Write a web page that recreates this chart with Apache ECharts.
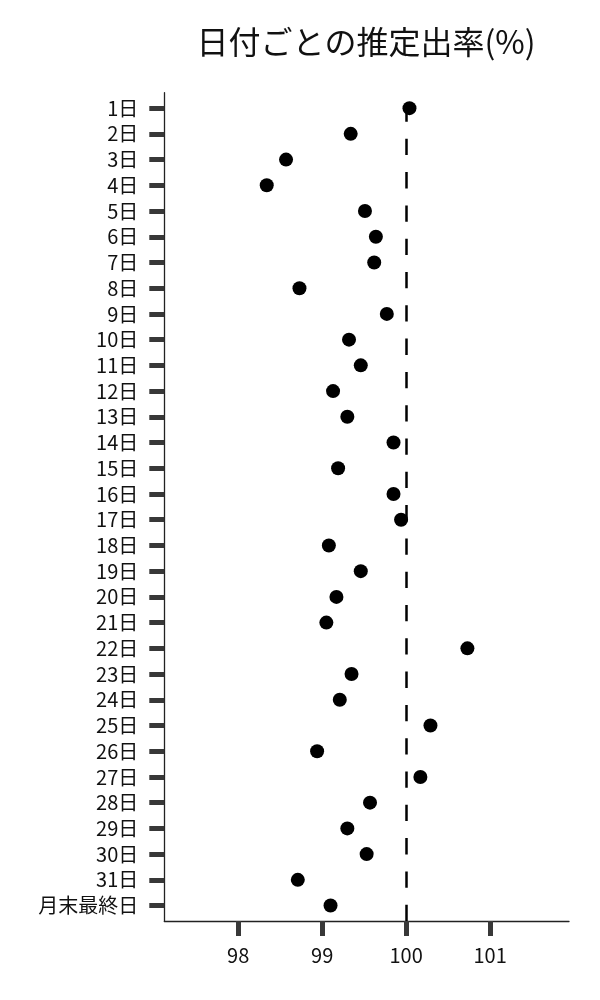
<!DOCTYPE html>
<html>
<head>
<meta charset="utf-8">
<script src="https://cdn.jsdelivr.net/npm/echarts@6/dist/echarts.min.js"></script>
<style>html,body{margin:0;padding:0;background:#fff}#c{width:600px;height:1000px}</style>
</head>
<body>
<div id="c"></div>
<script>
const categories = ["1日","2日","3日","4日","5日","6日","7日","8日","9日","10日","11日","12日","13日","14日","15日","16日","17日","18日","19日","20日","21日","22日","23日","24日","25日","26日","27日","28日","29日","30日","31日","月末最終日"];
const rates = [100.04,99.34,98.57,98.34,99.51,99.64,99.62,98.73,99.77,99.32,99.46,99.13,99.30,99.85,99.19,99.85,99.94,99.08,99.46,99.17,99.05,100.73,99.35,99.21,100.29,98.94,100.17,99.57,99.30,99.53,98.71,99.10];
const xTicks = [98,99,100,101];
const refValue = 100;
const titleText = "日付ごとの推定出率(%)";

const xMin = 97.12, xMax = 101.94;
const yMin = -0.6, yMax = categories.length - 1 + 0.6;
const font = '"Noto Sans CJK JP", "Noto Sans", sans-serif';
const idx = categories.map((_, i) => i);
const points = categories.map((c, i) => [rates[i], i]);

const chart = echarts.init(document.getElementById('c'), null, {renderer: 'canvas'});
chart.setOption({
  backgroundColor: '#ffffff',
  animation: false,
  title: {
    text: titleText,
    left: 361, top: 21, textAlign: 'center',
    textStyle: {fontFamily: font, fontSize: 32, fontWeight: 'normal', color: '#111'}
  },
  grid: {left: 164.3, right: 31, top: 92.7, bottom: 79, containLabel: false},
  xAxis: {
    type: 'value', min: xMin, max: xMax,
    axisLine: {show: true, onZero: false, lineStyle: {color: '#222', width: 1.3}},
    axisTick: {show: true, customValues: xTicks, length: 15, lineStyle: {color: '#383838', width: 5}},
    axisLabel: {customValues: xTicks, margin: 24, fontFamily: font, fontSize: 20, color: '#111'},
    splitLine: {show: false}
  },
  yAxis: {
    type: 'value', inverse: true, min: yMin, max: yMax,
    axisLine: {show: true, onZero: false, lineStyle: {color: '#222', width: 1.3}},
    axisTick: {show: true, customValues: idx, length: 15, lineStyle: {color: '#383838', width: 5}},
    axisLabel: {customValues: idx, margin: 26, fontFamily: font, fontSize: 20, color: '#111',
      formatter: v => categories[Math.round(v)]},
    splitLine: {show: false}
  },
  series: [{
    type: 'scatter',
    data: points,
    symbol: 'circle', symbolSize: 14,
    itemStyle: {color: '#000', opacity: 1},
    z: 5,
    markLine: {
      silent: true, symbol: 'none', label: {show: false},
      lineStyle: {color: '#000', width: 2.5, type: [16.3, 17], opacity: 1},
      data: [[{coord: [refValue, yMax]}, {coord: [refValue, yMin]}]],
      z: 3
    }
  }]
});
</script>
</body>
</html>
